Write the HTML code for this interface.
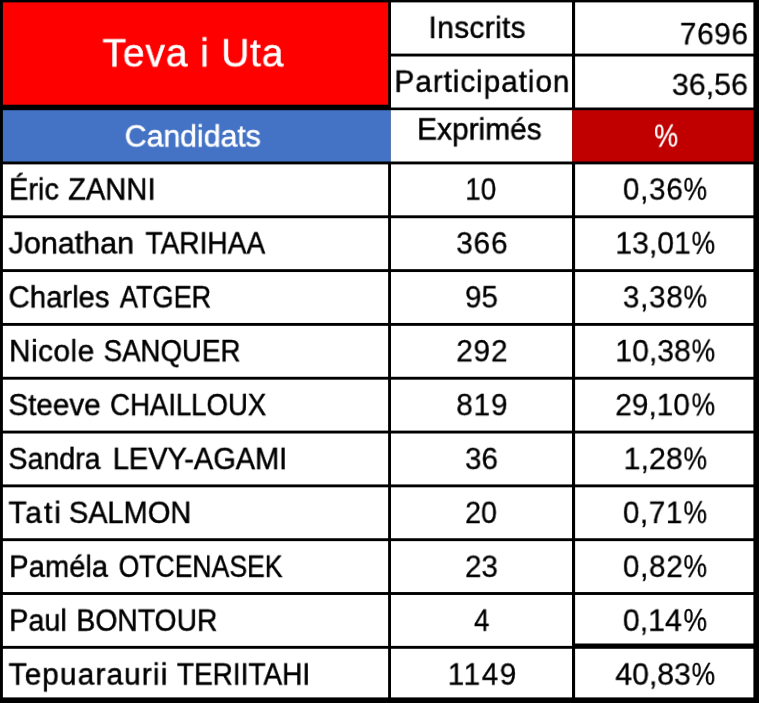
<!DOCTYPE html>
<html><head><meta charset="utf-8"><title>Teva i Uta</title>
<style>
html,body{margin:0;padding:0}
body{width:759px;height:703px;position:relative;overflow:hidden;background:#000;font-family:"Liberation Sans",sans-serif}
.b{position:absolute}
.t{position:absolute;left:0;top:0;white-space:nowrap;line-height:1;transform-origin:0 0;margin:0;will-change:transform;-webkit-text-stroke:.5px currentColor}
.t.n{-webkit-text-stroke-width:.3px}
</style></head><body>
<svg class="b" style="left:0;top:0;filter:blur(.35px)" width="759" height="703" viewBox="0 0 759 703">
<rect x="0" y="0" width="759" height="703" fill="#000"/>
<rect x="2.9" y="2.4" width="385.2" height="102.3" fill="#ff0000"/>
<rect x="391" y="2.4" width="181" height="51.2" fill="#fff"/>
<rect x="575.1" y="2.4" width="178.3" height="51.2" fill="#fff"/>
<rect x="391" y="56.5" width="181" height="51" fill="#fff"/>
<rect x="575.1" y="56.5" width="178.3" height="51" fill="#fff"/>
<rect x="2.9" y="110.2" width="387.9" height="51.3" fill="#4472c4"/>
<rect x="390.8" y="110.2" width="181.4" height="51.3" fill="#fff"/>
<rect x="572.2" y="110.2" width="181.2" height="51.3" fill="#c00000"/>
<rect x="2.9" y="164.4" width="385.2" height="50.92" fill="#fff"/>
<rect x="391" y="164.4" width="181" height="50.92" fill="#fff"/>
<rect x="575.1" y="164.4" width="178.3" height="50.92" fill="#fff"/>
<rect x="2.9" y="218.22" width="385.2" height="50.92" fill="#fff"/>
<rect x="391" y="218.22" width="181" height="50.92" fill="#fff"/>
<rect x="575.1" y="218.22" width="178.3" height="50.92" fill="#fff"/>
<rect x="2.9" y="272.04" width="385.2" height="50.92" fill="#fff"/>
<rect x="391" y="272.04" width="181" height="50.92" fill="#fff"/>
<rect x="575.1" y="272.04" width="178.3" height="50.92" fill="#fff"/>
<rect x="2.9" y="325.86" width="385.2" height="50.92" fill="#fff"/>
<rect x="391" y="325.86" width="181" height="50.92" fill="#fff"/>
<rect x="575.1" y="325.86" width="178.3" height="50.92" fill="#fff"/>
<rect x="2.9" y="379.68" width="385.2" height="50.92" fill="#fff"/>
<rect x="391" y="379.68" width="181" height="50.92" fill="#fff"/>
<rect x="575.1" y="379.68" width="178.3" height="50.92" fill="#fff"/>
<rect x="2.9" y="433.5" width="385.2" height="50.92" fill="#fff"/>
<rect x="391" y="433.5" width="181" height="50.92" fill="#fff"/>
<rect x="575.1" y="433.5" width="178.3" height="50.92" fill="#fff"/>
<rect x="2.9" y="487.32" width="385.2" height="50.92" fill="#fff"/>
<rect x="391" y="487.32" width="181" height="50.92" fill="#fff"/>
<rect x="575.1" y="487.32" width="178.3" height="50.92" fill="#fff"/>
<rect x="2.9" y="541.14" width="385.2" height="50.92" fill="#fff"/>
<rect x="391" y="541.14" width="181" height="50.92" fill="#fff"/>
<rect x="575.1" y="541.14" width="178.3" height="50.92" fill="#fff"/>
<rect x="2.9" y="594.96" width="385.2" height="50.92" fill="#fff"/>
<rect x="391" y="594.96" width="181" height="50.92" fill="#fff"/>
<rect x="575.1" y="594.96" width="178.3" height="48.54" fill="#fff"/>
<rect x="2.9" y="648.78" width="385.2" height="48.62" fill="#fff"/>
<rect x="391" y="648.78" width="181" height="48.62" fill="#fff"/>
<rect x="575.1" y="648.78" width="178.3" height="48.62" fill="#fff"/>
</svg>
<div class="t" style="font-size:31px;color:#000;transform:translate(9.04px,174.45px) scale(0.9315,0.97)">Éric</div>
<div class="t" style="font-size:31px;color:#000;transform:translate(68.1px,174.45px) scale(0.9393,0.97)">ZANNI</div>
<div class="t" style="font-size:31px;color:#000;transform:translate(8.6px,228.34px) scale(0.9840,0.97)">Jonathan</div>
<div class="t" style="font-size:31px;color:#000;transform:translate(145.5px,228.34px) scale(0.9058,0.97)">TARIHAA</div>
<div class="t" style="font-size:31px;color:#000;transform:translate(8.55px,282.23px) scale(0.9457,0.97)">Charles</div>
<div class="t" style="font-size:31px;color:#000;transform:translate(119.8px,282.23px) scale(0.8749,0.97)">ATGER</div>
<div class="t" style="font-size:31px;color:#000;letter-spacing:0.5px;transform:translate(9.08px,336.12px) scale(0.9600,0.97)">Nicole</div>
<div class="t" style="font-size:31px;color:#000;transform:translate(103.61px,336.12px) scale(0.8925,0.97)">SANQUER</div>
<div class="t" style="font-size:31px;color:#000;transform:translate(8.34px,390.01px) scale(0.9568,0.97)">Steeve</div>
<div class="t" style="font-size:31px;color:#000;transform:translate(110.11px,390.01px) scale(0.8883,0.97)">CHAILLOUX</div>
<div class="t" style="font-size:31px;color:#000;transform:translate(8.38px,443.9px) scale(0.9216,0.97)">Sandra</div>
<div class="t" style="font-size:31px;color:#000;transform:translate(112.73px,443.9px) scale(0.9350,0.97)">LEVY-AGAMI</div>
<div class="t" style="font-size:31px;color:#000;letter-spacing:2.12px;transform:translate(8.5px,497.79px) scale(0.9600,0.97)">Tati</div>
<div class="t" style="font-size:31px;color:#000;transform:translate(68.87px,497.79px) scale(0.9347,0.97)">SALMON</div>
<div class="t" style="font-size:31px;color:#000;transform:translate(9.12px,551.68px) scale(0.9416,0.97)">Paméla</div>
<div class="t" style="font-size:31px;color:#000;transform:translate(118.64px,551.68px) scale(0.8571,0.97)">OTCENASEK</div>
<div class="t" style="font-size:31px;color:#000;transform:translate(9.15px,605.57px) scale(0.9268,0.97)">Paul</div>
<div class="t" style="font-size:31px;color:#000;transform:translate(76.37px,605.57px) scale(0.9136,0.97)">BONTOUR</div>
<div class="t" style="font-size:31px;color:#000;letter-spacing:1.19px;transform:translate(8.6px,659.46px) scale(0.9600,0.97)">Tepuaraurii</div>
<div class="t" style="font-size:31px;color:#000;transform:translate(176.9px,659.46px) scale(0.9032,0.97)">TERIITAHI</div>
<div class="t n" style="font-size:31px;color:#000;transform:translate(465.2px,174.45px) scale(0.8995,0.97)">10</div>
<div class="t n" style="font-size:31px;color:#000;letter-spacing:0.83px;transform:translate(456.24px,228.34px) scale(0.9600,0.97)">366</div>
<div class="t n" style="font-size:31px;color:#000;transform:translate(465.05px,282.23px) scale(0.9522,0.97)">95</div>
<div class="t n" style="font-size:31px;color:#000;letter-spacing:0.83px;transform:translate(456.24px,336.12px) scale(0.9600,0.97)">292</div>
<div class="t n" style="font-size:31px;color:#000;letter-spacing:0.83px;transform:translate(456.24px,390.01px) scale(0.9600,0.97)">819</div>
<div class="t n" style="font-size:31px;color:#000;transform:translate(465.05px,443.9px) scale(0.9522,0.97)">36</div>
<div class="t n" style="font-size:31px;color:#000;transform:translate(465.08px,497.79px) scale(0.9236,0.97)">20</div>
<div class="t n" style="font-size:31px;color:#000;transform:translate(465.05px,551.68px) scale(0.9522,0.97)">23</div>
<div class="t n" style="font-size:31px;color:#000;transform:translate(474.1px,605.57px) scale(0.8882,0.97)">4</div>
<div class="t n" style="font-size:31px;color:#000;letter-spacing:1.64px;transform:translate(447.68px,659.46px) scale(0.9600,0.97)">1149</div>
<div class="t n" style="font-size:31px;color:#000;letter-spacing:0.74px;transform:translate(622.84px,174.45px) scale(0.9600,0.97)">0,36</div>
<div class="t n" style="font-size:31px;color:#000;transform:translate(683.45px,173.88px) scale(0.8538,1.005)">%</div>
<div class="t n" style="font-size:31px;color:#000;transform:translate(615.25px,228.34px) scale(0.9753,0.97)">13,01</div>
<div class="t n" style="font-size:31px;color:#000;transform:translate(691.55px,227.77px) scale(0.8538,1.005)">%</div>
<div class="t n" style="font-size:31px;color:#000;letter-spacing:0.74px;transform:translate(622.84px,282.23px) scale(0.9600,0.97)">3,38</div>
<div class="t n" style="font-size:31px;color:#000;transform:translate(683.45px,281.66px) scale(0.8538,1.005)">%</div>
<div class="t n" style="font-size:31px;color:#000;transform:translate(615.25px,336.12px) scale(0.9753,0.97)">10,38</div>
<div class="t n" style="font-size:31px;color:#000;transform:translate(691.55px,335.55px) scale(0.8538,1.005)">%</div>
<div class="t n" style="font-size:31px;color:#000;transform:translate(615.24px,390.01px) scale(0.9629,0.97)">29,10</div>
<div class="t n" style="font-size:31px;color:#000;transform:translate(691.55px,389.44px) scale(0.8538,1.005)">%</div>
<div class="t n" style="font-size:31px;color:#000;transform:translate(623.53px,443.9px) scale(0.9843,0.97)">1,28</div>
<div class="t n" style="font-size:31px;color:#000;transform:translate(683.45px,443.33px) scale(0.8538,1.005)">%</div>
<div class="t n" style="font-size:31px;color:#000;letter-spacing:0.57px;transform:translate(622.84px,497.79px) scale(0.9600,0.97)">0,71</div>
<div class="t n" style="font-size:31px;color:#000;transform:translate(683.45px,497.22px) scale(0.8538,1.005)">%</div>
<div class="t n" style="font-size:31px;color:#000;letter-spacing:0.74px;transform:translate(622.84px,551.68px) scale(0.9600,0.97)">0,82</div>
<div class="t n" style="font-size:31px;color:#000;transform:translate(683.45px,551.11px) scale(0.8538,1.005)">%</div>
<div class="t n" style="font-size:31px;color:#000;transform:translate(622.82px,605.57px) scale(0.9798,0.97)">0,14</div>
<div class="t n" style="font-size:31px;color:#000;transform:translate(683.45px,605px) scale(0.8538,1.005)">%</div>
<div class="t n" style="font-size:31px;color:#000;transform:translate(615.3px,659.46px) scale(0.9747,0.97)">40,83</div>
<div class="t n" style="font-size:31px;color:#000;transform:translate(691.55px,658.89px) scale(0.8538,1.005)">%</div>
<div class="t" style="font-size:40.5px;color:#fff;letter-spacing:1.01px;transform:translate(102.5px,33.45px) scale(0.9600,0.97)">Teva i</div>
<div class="t" style="font-size:40.5px;color:#fff;letter-spacing:0.84px;transform:translate(221.22px,33.45px) scale(0.9600,0.97)">Uta</div>
<div class="t" style="font-size:31px;color:#fff;transform:translate(124.72px,121.35px) scale(0.9754,0.97)">Candidats</div>
<div class="t" style="font-size:31px;color:#000;letter-spacing:0.39px;transform:translate(428.58px,12.75px) scale(0.9600,0.97)">Inscrits</div>
<div class="t" style="font-size:31px;color:#000;letter-spacing:0.98px;transform:translate(394.38px,66.65px) scale(0.9600,0.97)">Participation</div>
<div class="t" style="font-size:31px;color:#000;transform:translate(417.07px,114.35px) scale(0.9638,0.97)">Exprimés</div>
<div class="t n" style="font-size:31px;color:#fff;transform:translate(654.13px,120.63px) scale(0.8654,1.005)">%</div>
<div class="t n" style="font-size:31px;color:#000;letter-spacing:0.68px;transform:translate(679.84px,19.15px) scale(0.9600,0.97)">7696</div>
<div class="t n" style="font-size:31px;color:#000;transform:translate(671.82px,69.85px) scale(0.9823,0.97)">36,56</div>
</body></html>
